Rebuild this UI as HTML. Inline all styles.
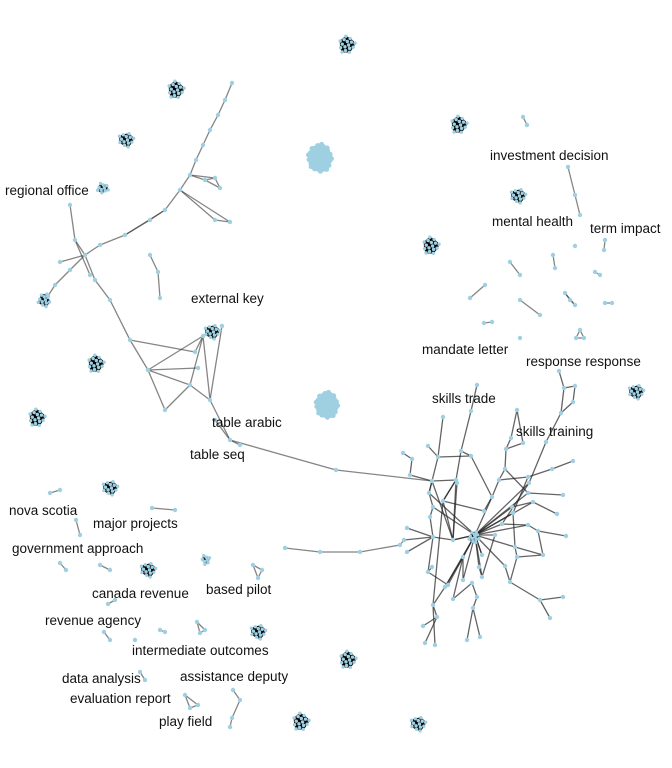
<!DOCTYPE html>
<html><head><meta charset="utf-8"><style>
html,body{margin:0;padding:0;background:#fff;}
svg{display:block;}
text{font-family:"Liberation Sans",sans-serif;font-size:13.5px;fill:#111;}
</style></head><body>
<svg id="g" width="672" height="768" viewBox="0 0 672 768">
<g id="edges"></g>
<g id="nodes"></g>
<g id="labels"></g>
</svg>
<script>
// Dense cluster components: centre x, centre y, node count, radius
const clusterX=[347,176,126,103,44,96,37,110,148,206,258,348,301,418,459,518,431,636,212,474];
const clusterY=[45,90,140,188,300,364,418,488,570,560,632,660,722,724,125,196,246,392,332,537];
const clusterN=[16,16,14,10,12,16,16,14,14,8,14,16,16,14,16,14,16,14,14,12];
const clusterR=[9,9,8,6,7,9,9,8,8,5,8,9,9,8,9,8,9,8,8,6];
// Solid blobs
const blobX=[320,327];
const blobY=[158,405];
const blobR=[16,15];
// Sparse nodes: left component + bridge
const nodeId=["a0","a1","a2","a3","a4","a5","a6","a7","a8","a9","a10","a11","a12","a13","a14","a15",
"t1","t2","t3","t4","t5","b0","b1","b2","b3","c1","c2","c3","c4","c5","b5","b6","b7",
"k1","k2","k3","e1","e2","e3","m2","m3","h",
"q1","q2","q3","q4","n1","n2",
"i1","i2","i3","p1","p2","ti1","ti2","mh"];
const nodeX=[232,225,218,210,203,196,190,180,165,150,125,100,85,70,55,48,
205,215,220,215,230,70,75,90,60,95,110,130,148,165,150,158,160,
195,190,210,203,222,198,230,336,475,
285,320,360,400,215,240,
568,575,580,523,527,605,604,575];
const nodeY=[83,100,115,130,145,160,175,190,210,220,235,245,255,270,285,296,
180,178,188,220,222,205,240,275,262,280,300,340,370,410,255,272,298,
352,385,400,336,326,368,440,470,535,
548,552,552,545,420,445,
167,195,215,117,125,240,250,246];
// Right-hand large component nodes
const rightX=[559,564,575,573,561,546,523,517,511,506,505,499,492,484,477,471,461,471,456,457,438,428,412,403,410,432,429,433,430,443,443,433,407,404,407,453,463,432,428,448,445,433,437,423,425,435,453,463,472,477,473,467,480,482,479,482,505,510,517,515,495,502,528,538,566,543,557,533,563,528,513,512,529,528,552,573,540,563,550];
const rightY=[371,388,386,402,413,442,443,410,438,449,469,480,497,511,385,411,451,456,480,483,457,446,459,453,475,481,493,507,517,501,417,537,528,540,552,540,557,567,572,585,587,605,617,626,643,645,599,580,583,597,608,640,637,577,567,555,566,582,557,547,535,524,525,531,536,555,514,502,495,493,513,507,483,477,469,461,600,597,618];
const rightFrom=[0,1,2,3,1,4,5,7,8,6,9,10,11,12,14,15,16,16,17,18,30,20,20,22,22,20,24,25,25,25,26,27,28,29,29,29,31,32,33,34,35,31,38,39,37,40,36,40,41,42,42,41,46,46,47,48,49,50,50,53,54,55,56,56,57,76,76,58,59,60,61,62,62,63,63,65,66,67,68,69,70,71,72,73,74,73,12,11,7,10,27,26,39,40,13,61,71,58,59,18,19,35,36,54,55,60,61,70];
const rightTo=[1,2,3,4,4,5,72,8,9,9,10,11,12,13,15,16,18,17,12,29,20,21,26,23,24,17,25,18,26,35,27,28,31,18,35,41,35,31,31,31,-1,38,39,40,38,36,-1,41,42,43,44,45,36,48,-1,49,50,51,52,-1,-1,-1,-1,57,76,77,78,59,-1,-1,-1,-1,63,64,65,58,67,-1,69,-1,-1,-1,-1,70,75,74,-1,73,6,69,-1,-1,-1,-1,29,72,67,57,65,35,35,-1,47,53,-1,53,62,59];
// Small detached pairs / triangles
const smallId=["x1","x2","x3","x4","x5","x6","x7","x8","x9","x10","x11","x12","x13","x14","x15","x16","x17","x18","x19","x20","x21",
"y1","y2","y3","y4","y5","y6","y7","y8","y9","y10","y11","y12","y13","y14","y15","y16","y17","y18","y19","y20","y21","y22","y23","y24","y25","y26","y27","y28","y29","y30","y31","y32"];
const smallX=[510,520,553,555,470,485,565,570,575,595,600,605,612,520,540,580,584,576,484,492,520,
50,60,152,175,76,80,60,66,100,110,108,115,104,110,160,165,135,197,205,200,253,262,258,140,145,185,198,190,233,240,232,230];
const smallY=[262,275,255,268,298,285,293,300,305,272,275,303,303,300,315,330,338,338,323,322,338,
493,490,508,510,520,535,563,570,565,570,604,600,632,640,630,632,640,622,630,633,565,570,578,672,680,695,705,708,690,700,718,727];
const edgeFrom=["a0","a1","a2","a3","a4","a5","a6","a7","a8","a9","a10","a11","a12","a13","a14",
"a6","a6","t1","t2","t1","a7","a7","t4","a8","b0","b1","b1","b3","a12","c1","c2","c3","c4","b5","b6",
"c3","k1","k2","c4","c4","e1","e2","k2","c4","k3","m2","m3","m2","m2","c5",
"q1","q2","q3","q4",
"i1","i2","p1","ti1",
"x1","x3","x5","x7","x8","x9","x10","x12","x14","x16","x17","x18","x19",
"y1","y3","y5","y7","y9","y11","y13","y15","y18","y19","y20","y21","y22","y23","y24","y26","y27","y28","y29","y30","y31"];
const edgeTo=["a1","a2","a3","a4","a5","a6","a7","a8","a9","a10","a11","a12","a13","a14","a15",
"t1","t2","t2","t3","t3","t4","t5","t5","a10","b1","b2","a12","a12","c1","c2","c3","c4","c5","b6","b7",
"k1","e1","e1","k2","e1","k3","k3","k3","e3","m2","m3","R25","n1","n2","k2",
"q2","q3","q4","R33",
"i2","i3","p2","ti2",
"x2","x4","x6","x8","x9","x7","x11","x13","x15","x17","x18","x16","x20",
"y2","y4","y6","y8","y10","y12","y14","y16","y19","y20","y18","y22","y23","y21","y25","y27","y28","y26","y30","y31","y32"];
// Labels
const labelText=["investment decision","mental health","term impact","regional office","external key","mandate letter","response response","skills trade","skills training","table arabic","table seq","nova scotia","major projects","government approach","canada revenue","based pilot","revenue agency","intermediate outcomes","data analysis","assistance deputy","evaluation report","play field"];
const labelX=[490,492,590,5,191,422,526,432,516,212,190,9,93,12,92,206,45,132,62,180,70,159];
const labelY=[160,226,233,195,303,354,366,403,436,427,459,515,528,553,598,594,625,655,683,681,703,726];

const NS="http://www.w3.org/2000/svg";
const E=document.getElementById('edges'),N=document.getElementById('nodes'),L=document.getElementById('labels');
function line(x1,y1,x2,y2,c,op,w){const l=document.createElementNS(NS,'line');l.setAttribute('x1',x1);l.setAttribute('y1',y1);l.setAttribute('x2',x2);l.setAttribute('y2',y2);l.setAttribute('stroke',c);l.setAttribute('stroke-opacity',op);l.setAttribute('stroke-width',w||1.3);


E.appendChild(l);}
function dot(x,y,r){const c=document.createElementNS(NS,'circle');c.setAttribute('cx',x);c.setAttribute('cy',y);c.setAttribute('r',r);c.setAttribute('fill','#9fd0e2');


N.appendChild(c);}
const pos={};
nodeId.forEach((id,i)=>pos[id]=[nodeX[i],nodeY[i]]);
smallId.forEach((id,i)=>pos[id]=[smallX[i],smallY[i]]);
rightX.forEach((x,i)=>pos['R'+i]=[x,rightY[i]]);
for(let i=0;i<rightFrom.length;i++){const a=pos['R'+rightFrom[i]],b=rightTo[i]<0?pos['h']:pos['R'+rightTo[i]];if(a&&b)line(a[0],a[1],b[0],b[1],'#222',0.7);}
for(let i=0;i<edgeFrom.length;i++){const a=pos[edgeFrom[i]],b=pos[edgeTo[i]];if(!a||!b)continue;line(a[0],a[1],b[0],b[1],'#333',0.6);}
for(let k=0;k<clusterX.length;k++){
  const pts=[];const n=clusterN[k];
  for(let i=0;i<n;i++){const a=i*2.39996,r=clusterR[k]*Math.sqrt((i+0.5)/n);pts.push([clusterX[k]+r*Math.cos(a),clusterY[k]+r*Math.sin(a)]);}
  for(let i=0;i<n;i++)for(let j=i+1;j<n;j++){line(pts[i][0],pts[i][1],pts[j][0],pts[j][1],'#000',0.8,1);}
  for(const p of pts)dot(p[0],p[1],1.7);
}
for(const id in pos)dot(pos[id][0],pos[id][1],2.2);
for(let k=0;k<blobX.length;k++){
  const n=60;
  for(let i=0;i<n;i++){const a=i*2.39996,r=(blobR[k]-2)*Math.sqrt((i+0.5)/n);dot(blobX[k]+r*Math.cos(a)*0.85,blobY[k]+r*Math.sin(a),2.5);}
}
for(let i=0;i<labelText.length;i++){const t=document.createElementNS(NS,'text');t.setAttribute('x',labelX[i]);t.setAttribute('y',labelY[i]);t.textContent=labelText[i];


L.appendChild(t);}
</script>
</body></html>
